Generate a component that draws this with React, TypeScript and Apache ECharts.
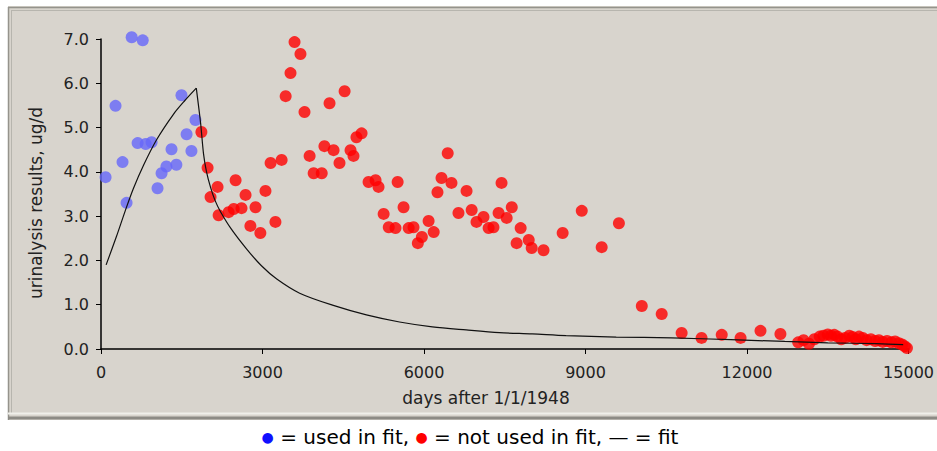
import React, { useEffect, useRef } from "react";
import * as echarts from "echarts";

// days after 1/1/1948, urinalysis result (ug/d)
const usedInFit: [number, number][] = [
  [85, 3.88], [270, 5.49], [400, 4.22], [475, 3.3], [570, 7.04], [775, 6.97],
  [680, 4.65], [830, 4.63], [940, 4.67], [1050, 3.63], [1125, 3.97], [1215, 4.12],
  [1310, 4.51], [1400, 4.16], [1495, 5.73], [1590, 4.85], [1680, 4.47], [1755, 5.17],
];

const notUsedInFit: [number, number][] = [
  [1865, 4.9], [1980, 4.09], [2035, 3.43], [2165, 3.66], [2185, 3.02], [2370, 3.09],
  [2465, 3.16], [2500, 3.81], [2610, 3.18], [2685, 3.48], [2775, 2.78], [2870, 3.2],
  [2960, 2.62], [3055, 3.57], [3150, 4.2], [3240, 2.87], [3355, 4.27], [3430, 5.71],
  [3520, 6.23], [3595, 6.93], [3705, 6.66], [3780, 5.35], [3875, 4.36], [3950, 3.97],
  [4100, 3.97], [4150, 4.58], [4245, 5.55], [4320, 4.49], [4430, 4.2], [4525, 5.82],
  [4635, 4.49], [4690, 4.36], [4745, 4.78], [4840, 4.87], [4970, 3.77], [5100, 3.81],
  [5155, 3.66], [5250, 3.05], [5345, 2.75], [5470, 2.73], [5510, 3.77], [5620, 3.2],
  [5715, 2.73], [5805, 2.75], [5885, 2.39], [5960, 2.53], [6085, 2.89], [6180, 2.64],
  [6250, 3.54], [6325, 3.86], [6440, 4.42], [6510, 3.75], [6640, 3.07], [6790, 3.57],
  [6885, 3.14], [6975, 2.87], [7105, 2.98], [7200, 2.73], [7290, 2.75], [7385, 3.07],
  [7440, 3.75], [7535, 2.96], [7630, 3.2], [7720, 2.39], [7795, 2.73], [7945, 2.46],
  [8000, 2.28], [8220, 2.23], [8575, 2.62], [8930, 3.12], [9300, 2.3], [9620, 2.84],
  [10045, 0.97], [10415, 0.79], [10785, 0.36], [11155, 0.25], [11530, 0.32], [11880, 0.25],
  [12250, 0.41], [12620, 0.34], [12950, 0.15], [13050, 0.2], [13150, 0.12], [13250, 0.22],
  [13350, 0.28], [13420, 0.3], [13500, 0.33], [13560, 0.3], [13620, 0.32], [13680, 0.28],
  [13750, 0.22], [13820, 0.25], [13900, 0.3], [13960, 0.27], [14020, 0.22], [14080, 0.28],
  [14150, 0.25], [14220, 0.2], [14300, 0.22], [14380, 0.18], [14450, 0.2], [14520, 0.16],
  [14600, 0.18], [14680, 0.15], [14750, 0.17], [14820, 0.13], [14880, 0.1], [14930, 0.06],
  [14970, 0.02],
];

// fitted curve: rising part, then the decay after the peak
const fitRise: [number, number][] = [
  [95, 1.9], [290, 2.55], [450, 3.12], [600, 3.62], [790, 4.15], [1030, 4.72],
  [1345, 5.3], [1550, 5.6], [1770, 5.89],
];

const fitDecay: [number, number][] = [
  [1770, 5.89], [1850, 5.1], [1905, 4.4], [1960, 4.0], [2035, 3.65], [2120, 3.35],
  [2220, 3.1], [2425, 2.7], [2710, 2.25], [2980, 1.88], [3265, 1.58], [3690, 1.26],
  [4300, 0.99], [4930, 0.77], [5545, 0.61], [6155, 0.5], [6785, 0.43], [7400, 0.37],
  [8010, 0.34], [8640, 0.3], [9570, 0.27], [10600, 0.25], [11700, 0.21], [12700, 0.17],
  [13500, 0.14], [14400, 0.12], [14900, 0.1],
];

const xTitle = "days after 1/1/1948";
const yTitle = "urinalysis results, ug/d";
const legendText = "{b|●} = used in fit, {r|●} = not used in fit, — = fit";

const FONT = "'DejaVu Sans', sans-serif";

export default function App() {
  const ref = useRef<HTMLDivElement>(null);
  useEffect(() => {
    if (!ref.current) return;
    const chart = echarts.init(ref.current, undefined, { renderer: "svg" });
    const fitStyle = { color: "#111", width: 1.2 };
    chart.setOption({
      animation: false,
      backgroundColor: "#ffffff",
      graphic: [
        { type: "rect", z: -10, silent: true, shape: { x: 8, y: 6, width: 929, height: 414 }, style: { fill: "#d8d4cd" } },
        { type: "line", z: -9, shape: { x1: 8, y1: 7.5, x2: 937, y2: 7.5 }, style: { stroke: "#95938c", lineWidth: 1.5 } },
        { type: "line", z: -9, shape: { x1: 11, y1: 10.5, x2: 937, y2: 10.5 }, style: { stroke: "#b7b5ae", lineWidth: 1 } },
        { type: "line", z: -9, shape: { x1: 8.5, y1: 7, x2: 8.5, y2: 420 }, style: { stroke: "#95938c", lineWidth: 1.5 } },
        { type: "line", z: -9, shape: { x1: 11.5, y1: 10, x2: 11.5, y2: 414 }, style: { stroke: "#b7b5ae", lineWidth: 1 } },
        { type: "line", z: -9, shape: { x1: 8, y1: 413.5, x2: 937, y2: 413.5 }, style: { stroke: "#f0efea", lineWidth: 2 } },
        { type: "line", z: -9, shape: { x1: 8, y1: 418, x2: 937, y2: 418 }, style: { stroke: "#8d8b85", lineWidth: 3 } },
        {
          type: "text", x: 486, y: 398,
          style: { text: xTitle, fontSize: 17, fontFamily: FONT, fill: "#222", textAlign: "center", textVerticalAlign: "middle" },
        },
        {
          type: "text", x: 36, y: 203, rotation: Math.PI / 2,
          style: { text: yTitle, fontSize: 17, fontFamily: FONT, fill: "#222", textAlign: "center", textVerticalAlign: "middle" },
        },
        {
          type: "text", x: 470, y: 437,
          style: {
            text: legendText, fontSize: 20, fontFamily: FONT, fill: "#000",
            textAlign: "center", textVerticalAlign: "middle",
            rich: {
              b: { fill: "#1010ff", fontSize: 14, fontFamily: FONT },
              r: { fill: "#ff0000", fontSize: 14, fontFamily: FONT },
            },
          },
        },
      ],
      grid: { left: 101, right: 27, top: 39, bottom: 102 },
      xAxis: {
        type: "value", min: 0, max: 15000, interval: 3000,
        axisLine: { show: true, onZero: false, lineStyle: { color: "#000", width: 1.5 } },
        axisTick: { show: true, length: 5, lineStyle: { color: "#000" } },
        axisLabel: { color: "#222", fontSize: 16, fontFamily: FONT, margin: 15, formatter: (v: number) => String(v) },
        splitLine: { show: false },
      },
      yAxis: {
        type: "value", min: 0, max: 7, interval: 1,
        axisLine: { show: true, onZero: false, lineStyle: { color: "#000", width: 1.5 } },
        axisTick: { show: true, length: 5, lineStyle: { color: "#000" } },
        axisLabel: { color: "#222", fontSize: 16, fontFamily: FONT, margin: 12, formatter: (v: number) => v.toFixed(1) },
        splitLine: { show: false },
      },
      series: [
        { type: "scatter", data: usedInFit, symbolSize: 12, clip: false, itemStyle: { color: "#6666fa" }, z: 2 },
        { type: "scatter", data: notUsedInFit, symbolSize: 12, clip: false, itemStyle: { color: "#ff0000" }, z: 2 },
        { type: "line", data: fitRise, showSymbol: false, smooth: 0.3, lineStyle: fitStyle, z: 3 },
        { type: "line", data: fitDecay, showSymbol: false, smooth: 0.3, lineStyle: fitStyle, z: 3 },
      ],
    });
    return () => chart.dispose();
  }, []);
  return <div ref={ref} style={{ position: "fixed", left: 0, top: 0, width: 937, height: 451 }} />;
}
